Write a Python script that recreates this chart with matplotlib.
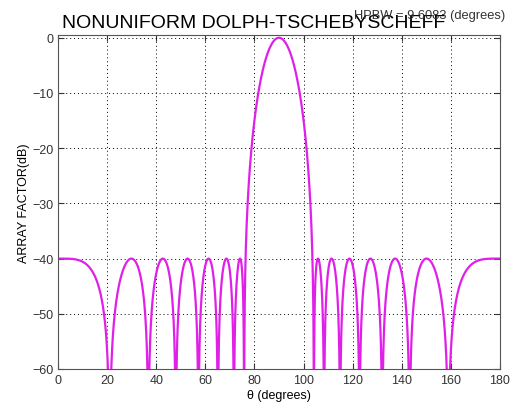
import numpy as np
import matplotlib
matplotlib.use("Agg")
import matplotlib.pyplot as plt

# array design: 15 elements, half-wave spacing, -40 dB sidelobes
n_elements = 15
spacing = 0.5          # wavelengths
sidelobe_db = -40.0
hpbw_label = "HPBW = 9.6083 (degrees)"

x_ticks = [0, 20, 40, 60, 80, 100, 120, 140, 160, 180]
y_ticks = [0, -10, -20, -30, -40, -50, -60]

plt.rcParams['font.family'] = ['Liberation Sans', 'DejaVu Sans']

theta = np.linspace(0, 180, 3601)
R = 10 ** (-sidelobe_db / 20)
order = n_elements - 1
x0 = np.cosh(np.arccosh(R) / order)
x = x0 * np.cos(np.pi * spacing * np.cos(np.radians(theta)))
af = np.where(np.abs(x) <= 1,
              np.cos(order * np.arccos(np.clip(x, -1, 1))),
              np.cosh(order * np.arccosh(np.maximum(np.abs(x), 1))))
af_db = 20 * np.log10(np.maximum(np.abs(af) / R, 1e-6))

fig = plt.figure(figsize=(5.12, 4.10), dpi=100)
ax = fig.add_axes([58 / 512, 40 / 410, 442 / 512, 334 / 410])
ax.plot(theta, af_db, color='#e020e8', lw=1.6)
ax.set_xlim(0, 180)
ax.set_ylim(-60, 0.5)
ax.set_xticks(x_ticks)
ax.set_yticks(y_ticks)
ax.grid(True, color='black', linestyle=(0, (1, 3)), linewidth=0.7)
ax.tick_params(direction='in', length=4, top=True, right=True, labelsize=9, colors='#333333')
for s in ax.spines.values():
    s.set_color('#555555')
ax.set_xlabel('θ (degrees)', fontsize=9, labelpad=2)
ax.set_ylabel('ARRAY FACTOR(dB)', fontsize=9, labelpad=1)

fig.text(62 / 512, 1 - 28 / 410, 'NONUNIFORM DOLPH-TSCHEBYSCHEFF', fontsize=14, va='baseline')
fig.text(505 / 512, 1 - 19 / 410, hpbw_label, fontsize=9.3, ha='right', va='baseline', color='#333333')

fig.savefig('out.png', dpi=100)
